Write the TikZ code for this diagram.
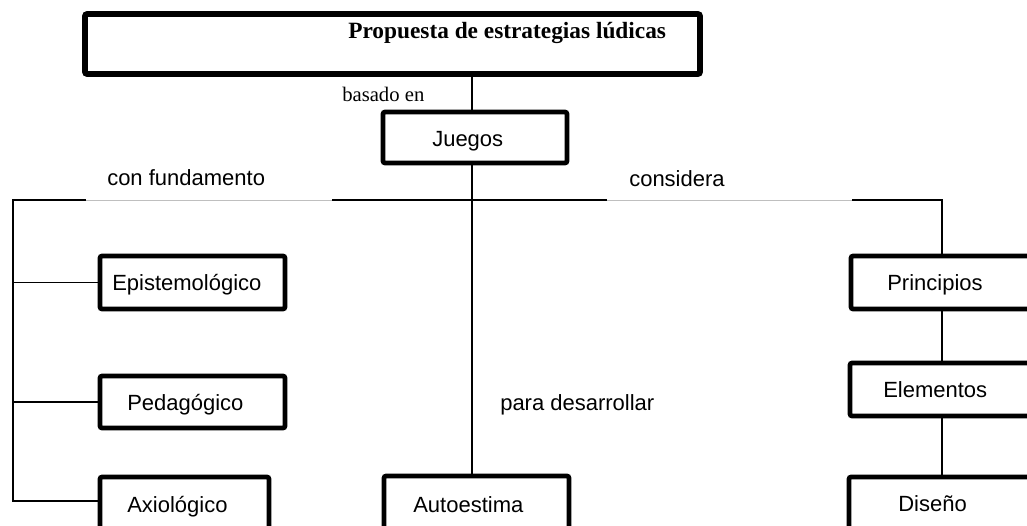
\documentclass[tikz,border=0pt]{standalone}
\usepackage{fontspec}
\setmainfont{Liberation Serif}
\newfontfamily\arialf{Liberation Sans}
\usetikzlibrary{fit}
\begin{document}
\begin{tikzpicture}[x=0.75pt,y=-0.75pt,
  box/.style={draw, line width=3.5pt, rounded corners=1.5pt, inner sep=0pt},
  topbox/.style={box, line width=4.2pt},
  lbl/.style={inner sep=0pt, anchor=base west, font=\arialf\fontsize{16.5}{19}\selectfont},
  conn/.style={line width=1pt},
  faint/.style={line width=0.5pt, black!25}]
\useasboundingbox (0,0) rectangle (1027,525);
\clip (0,0) rectangle (1027,525);
% boxes
\node[topbox, fit={(85,14) (700,74)}] (top) {};
\node[box, fit={(383,112) (567,163)}] (jue) {};
\node[box, fit={(100,256) (285,309)}] (epis) {};
\node[box, fit={(100,376) (285,428)}] (ped) {};
\node[box, fit={(100,477) (269,545)}] (axio) {};
\node[box, fit={(384,476) (569,545)}] (auto) {};
\node[box, fit={(851,256) (1045,309)}] (princ) {};
\node[box, fit={(850,363) (1045,416)}] (elem) {};
\node[box, fit={(849,477) (1045,545)}] (dis) {};
% texts
\node[inner sep=0pt, anchor=base west, font=\bfseries\fontsize{17.5}{20}\selectfont] (ttl) at (348,38) {Propuesta de estrategias lúdicas};
\node[inner sep=0pt, anchor=base west, font=\fontsize{15.5}{18}\selectfont] (basado) at (342,101) {basado en};
\node[lbl] (tjue) at (432,146) {Juegos};
\node[lbl] (tcon) at (107,185) {con fundamento};
\node[lbl] (tcons) at (629,186) {considera};
\node[lbl] (tepis) at (112,290) {Epistemológico};
\node[lbl] (tped) at (127,410) {Pedagógico};
\node[lbl] (taxio) at (127,512) {Axiológico};
\node[lbl] (tpara) at (500,410) {para desarrollar};
\node[lbl] (tauto) at (413,512) {Autoestima};
\node[lbl] (tprinc) at (887,290) {Principios};
\node[lbl] (telem) at (883,397) {Elementos};
\node[lbl] (tdis) at (898,511) {Diseño};
% coordinates
\coordinate (spine) at (472,0);
\coordinate (hl) at (13,200);
\coordinate (hr) at (942,200);
\coordinate (c1) at (86,200);
\coordinate (c2) at (332,200);
\coordinate (c3) at (607,200);
\coordinate (c4) at (852,200);
\coordinate (ab) at (13,501);
% connectors
\draw[conn] (top.south -| spine) -- (jue.north -| spine);
\draw[conn] (jue.south -| spine) -- (auto.north -| spine);
\draw[conn] (c1) -- (hl) -- (ab) -- (axio.west |- ab);
\draw[conn] (hl |- epis.west) -- (epis.west);
\draw[conn] (hl |- ped.west) -- (ped.west);
\draw[conn] (c2) -- (c3);
\draw[conn] (c4) -- (hr) -- (princ.north -| hr);
\draw[conn] (princ.south -| hr) -- (elem.north -| hr);
\draw[conn] (elem.south -| hr) -- (dis.north -| hr);
\draw[faint] (c1) -- (c2);
\draw[faint] (c3) -- (c4);
\end{tikzpicture}
\end{document}
